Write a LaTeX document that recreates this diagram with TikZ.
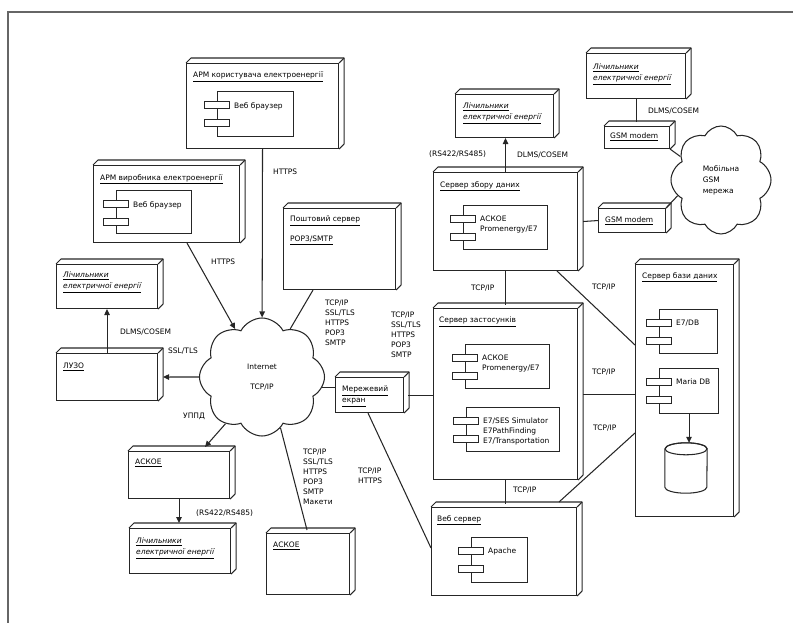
\documentclass[tikz,border=0pt]{standalone}
\usepackage{fontspec}
\setmainfont{DejaVu Sans}
\usetikzlibrary{shapes.symbols,shapes.geometric,arrows.meta,calc}
\tikzset{
 ln/.style={line width=1.05pt, draw=black!85},
 box/.style={ln, fill=white, inner sep=0pt, anchor=north west},
 tabbox/.style={ln, fill=white, inner sep=0pt, anchor=north, minimum width=25pt, minimum height=7pt},
 ttl/.style={inner sep=0pt, anchor=north west, align=left},
 lbl/.style={inner sep=0pt, anchor=west},
 stack/.style={inner sep=0pt, anchor=north west, align=left},
 conn/.style={ln},
 arr/.style={ln, -{Triangle[length=6pt,width=5.5pt]}},
}
\newcommand\dnode[5]{%
 \node[box, minimum width=#4pt, minimum height=#5pt] (#1) at (#2,#3) {};
 \draw[ln, line join=round] (#1.north west) -- ++(5pt,5pt) -- ($(#1.north east)+(5pt,5pt)$) -- ($(#1.south east)+(5pt,5pt)$) -- (#1.south east);
 \draw[ln] (#1.north east) -- ++(5pt,5pt);}
\newcommand\cmp[6]{%
 \node[box, minimum width=#4pt, minimum height=#5pt] (#1) at (#2,#3) {};
 \node[tabbox] (#1a) at ($(#1.north west)+(0,-10pt)$) {};
 \node[tabbox] (#1b) at ($(#1.north west)+(0,-28pt)$) {};
 \node[stack] (#1l) at ($(#1.north west)+(17pt,-11pt)$) {#6};}
\begin{document}
\begin{tikzpicture}[x=1pt,y=-1pt,font=\fontsize{7.5}{10}\selectfont]
\useasboundingbox (0,0) rectangle (793,623);
\draw[line width=1.2pt, black!60] (8,623) -- (8,12) -- (793,12);

% nodes
\dnode{apmk}{186}{63}{152}{85}
\dnode{apmv}{93}{165}{146}{77}
\dnode{licL}{56}{264}{101}{44}
\dnode{luzo}{56}{353}{101}{47}
\dnode{post}{283}{208}{112}{81}
\dnode{ekran}{335}{377}{68}{35}
\dnode{askoeA}{128}{451}{101}{47}
\dnode{licBL}{129}{528}{101}{45}
\dnode{askoeB}{266}{533}{83}{61}
\dnode{licTM}{455}{94}{98}{43}
\dnode{licTR}{586}{53}{99}{45}
\dnode{gsmA}{604}{126}{65}{22}
\dnode{gsmB}{598}{208}{67}{24}
\dnode{sbor}{433}{172}{144}{98}
\dnode{zast}{433}{308}{144}{171}
\dnode{web}{431}{507}{145}{88}
\dnode{db}{635}{264}{98}{252}

% titles
\node[ttl] (t1) at (193,72) {\underline{АРМ користувача електроенергії}};
\node[ttl] (t2) at (100,174) {\underline{АРМ виробника електроенергії}};
\node[ttl] (t3) at (63,272) {\itshape\underline{Лічильники}\\[1pt]\itshape\underline{електричної енергії}};
\node[ttl] (t4) at (63,363) {\underline{ЛУЗО}};
\node[ttl] (t5) at (290,216) {\underline{Поштовий сервер}\\[10pt]\underline{POP3/SMTP}};
\node[ttl] (t6) at (342,386) {\underline{Мережевий}\\[1pt]\underline{екран}};
\node[ttl] (t7) at (135,459) {\underline{АСКОЕ}};
\node[ttl] (t8) at (136,538) {\itshape\underline{Лічильники}\\[1pt]\itshape\underline{електричної енергії}};
\node[ttl] (t9) at (273,542) {\underline{АСКОЕ}};
\node[ttl] (t10) at (463,103) {\itshape\underline{Лічильники}\\[1pt]\itshape\underline{електричної енергії}};
\node[ttl] (t11) at (593,64) {\itshape\underline{Лічильники}\\[1pt]\itshape\underline{електричної енергії}};
\node[ttl] (t12) at (610,133) {\underline{GSM modem}};
\node[ttl] (t13) at (605,217) {\underline{GSM modem}};
\node[ttl] (t14) at (440,181) {\underline{Сервер збору даних}};
\node[ttl] (t15) at (439,317) {\underline{Сервер застосунків}};
\node[ttl] (t16) at (437,515) {\underline{Веб сервер}};
\node[ttl] (t17) at (642,272) {\underline{Сервер бази даних}};

% components
\cmp{ca}{217}{91}{76}{45}{Веб браузер}
\cmp{cb}{116}{190}{75}{43}{Веб браузер}
\cmp{cc}{463}{205}{84}{44}{АСКОЕ\\Promenergy/E7}
\cmp{cd}{465}{344}{84}{44}{АСКОЕ\\Promenergy/E7}
\cmp{ce}{466}{407}{93}{44}{E7/SES Simulator\\E7PathFinding\\E7/Transportation}
\cmp{cf}{471}{537}{56}{45}{Apache}
\cmp{cg}{659}{309}{58}{44}{E7/DB}
\cmp{ch}{659}{368}{59}{45}{Maria DB}

% database cylinder
\node[inner sep=0pt, minimum width=42pt, minimum height=50pt] (cyl) at (686,468) {};
\draw[ln, fill=white] ($(cyl.north west)+(0,-6pt)$) -- ($(cyl.south west)+(0,6pt)$)
  arc[start angle=180, end angle=360, x radius=21pt, y radius=6pt]
  -- ($(cyl.north east)+(0,-6pt)$)
  arc[start angle=0, end angle=180, x radius=21pt, y radius=6pt];
\draw[ln] ($(cyl.north)+(0,-6pt)$) ellipse[x radius=21pt, y radius=6pt];

% clouds
\node[cloud, cloud puffs=8, cloud puff arc=125, cloud ignores aspect, ln, fill=white, minimum width=125pt, minimum height=118pt, inner sep=0pt, align=center, font=\fontsize{7.5}{20}\selectfont] (inet) at (262,377) {Internet\\TCP/IP};
\node[cloud, cloud puffs=8, cloud puff arc=125, cloud ignores aspect, ln, fill=white, minimum width=100pt, minimum height=108pt, inner sep=0pt, align=left, font=\fontsize{7.5}{11}\selectfont] (mob) at (721,180) {Мобільна\\GSM\\мережа};

% connectors
\draw[arr] (apmk.south) -- (inet);
\draw[arr] ($(apmv.south west)+(94pt,0)$) -- (inet);
\draw[conn] ($(post.south west)+(30pt,0)$) -- (inet);
\draw[conn] (inet.-10) -- (inet.-10 -| ekran.west);
\draw[arr] (inet) -- ($(luzo.east)+(5pt,0)$);
\draw[arr] (luzo.north) -- (licL.south);
\draw[arr] (inet.-128) -- ($(askoeA.north west)+(77pt,4pt)$);
\draw[arr] (askoeA.south) -- ($(askoeA.south |- licBL.north)+(0,5pt)$);
\draw[conn] (inet.-70) -- ($(askoeB.north west)+(41pt,3pt)$);
\draw[conn] ($(ekran.south west)+(33pt,0)$) -- ($(web.north west)+(0,-41pt)$);
\draw[conn] ($(ekran.east)+(4pt,0)$) -- (ekran.east -| zast.west);
\draw[arr] (sbor.north) -- (sbor.north |- licTM.south);
\draw[conn] (licTR.south) -- ($(licTR.south |- gsmA.north)+(0,4pt)$);
\draw[conn] (gsmA.south east) -- (mob.150);
\draw[conn] ($(sbor.east)+(5pt,0)$) -- (gsmB.west);
\draw[conn] (gsmB.north east) -- (mob.200);
\draw[conn] (sbor.south) -- ($(sbor.south |- zast.north)+(0,3pt)$);
\draw[conn] ($(sbor.south west)+(124pt,0)$) -- ($(db.north west)+(0,-81pt)$);
\draw[conn] ($(zast.east)+(5pt,0)$) -- (zast.east -| db.west);
\draw[conn] (zast.south) -- ($(zast.south |- web.north)+(0,3pt)$);
\draw[conn] ($(web.north west)+(128pt,5pt)$) -- ($(db.north west)+(0,-169pt)$);
\draw[arr] (ch.south) -- (ch.south |- cyl.north);

% labels
\node[lbl] (l1) at (273,172) {HTTPS};
\node[lbl] (l2) at (211,262) {HTTPS};
\node[lbl] (l3) at (120,332) {DLMS/COSEM};
\node[lbl] (l4) at (168,351) {SSL/TLS};
\node[lbl] (l5) at (183,416) {УППД};
\node[lbl] (l6) at (196,513) {(RS422/RS485)};
\node[lbl] (l7) at (429,154) {(RS422/RS485)};
\node[lbl] (l8) at (517,155) {DLMS/COSEM};
\node[lbl] (l9) at (648,111) {DLMS/COSEM};
\node[lbl] (l10) at (471,288) {TCP/IP};
\node[lbl] (l11) at (592,287) {TCP/IP};
\node[lbl] (l12) at (592,372) {TCP/IP};
\node[lbl] (l13) at (593,428) {TCP/IP};
\node[lbl] (l14) at (513,490) {TCP/IP};
\node[stack] (s1) at (325,300) {TCP/IP\\SSL/TLS\\HTTPS\\POP3\\SMTP};
\node[stack] (s2) at (391,312) {TCP/IP\\SSL/TLS\\HTTPS\\POP3\\SMTP};
\node[stack] (s3) at (303,449) {TCP/IP\\SSL/TLS\\HTTPS\\POP3\\SMTP\\Макети};
\node[stack] (s4) at (358,468) {TCP/IP\\HTTPS};
\end{tikzpicture}
\end{document}
